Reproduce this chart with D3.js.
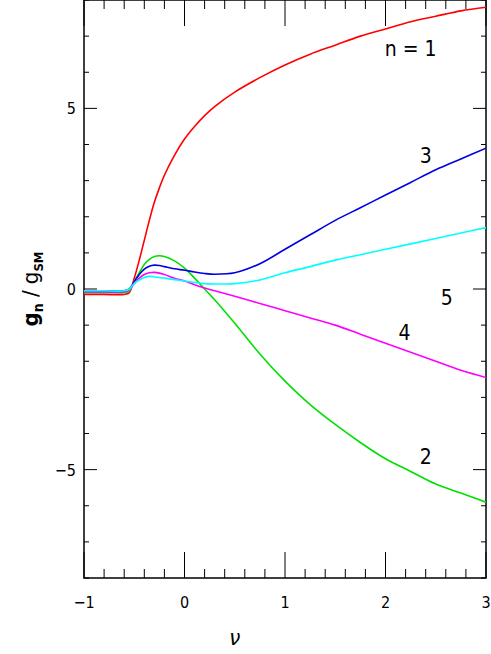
<!DOCTYPE html><html><head><meta charset="utf-8"><script src="https://cdn.jsdelivr.net/npm/d3@7"></script>
<style>body{margin:0;background:#fff}text{font-family:"DejaVu Sans Condensed","DejaVu Sans";}</style></head><body><svg width="491" height="654"></svg><script>
const nu=[-1,-0.8,-0.6,-0.55,-0.5,-0.45,-0.4,-0.35,-0.3,-0.25,-0.2,-0.1,0,0.1,0.2,0.3,0.5,0.75,1,1.25,1.5,1.75,2,2.25,2.5,2.75,3];
const n1=[-0.15,-0.15,-0.15,-0.1,0.3,0.8,1.35,1.9,2.4,2.8,3.15,3.7,4.15,4.5,4.8,5.05,5.45,5.85,6.2,6.5,6.75,7.0,7.2,7.4,7.55,7.7,7.8];
const n2=[-0.1,-0.1,-0.1,-0.05,0.2,0.45,0.68,0.82,0.9,0.92,0.9,0.78,0.58,0.3,0.0,-0.3,-0.95,-1.8,-2.55,-3.2,-3.75,-4.25,-4.7,-5.05,-5.4,-5.65,-5.9];
const n3=[-0.05,-0.05,-0.05,0,0.2,0.4,0.55,0.63,0.66,0.65,0.62,0.56,0.52,0.47,0.43,0.41,0.45,0.7,1.1,1.5,1.9,2.25,2.6,2.95,3.3,3.6,3.9];
const n4=[-0.08,-0.08,-0.08,-0.02,0.15,0.3,0.4,0.45,0.46,0.44,0.4,0.3,0.22,0.12,0.03,-0.05,-0.2,-0.4,-0.6,-0.8,-1.0,-1.25,-1.5,-1.75,-2.0,-2.25,-2.45];
const n5=[-0.05,-0.05,-0.05,0,0.15,0.25,0.32,0.35,0.34,0.32,0.3,0.26,0.22,0.18,0.15,0.14,0.15,0.25,0.45,0.62,0.8,0.95,1.1,1.25,1.4,1.55,1.7];
const series=[{v:n1,c:"#ff0000"},{v:n2,c:"#00e000"},{v:n3,c:"#0000e0"},{v:n4,c:"#ff00ff"},{v:n5,c:"#00ffff"}];
const labels=[{t:"n = 1",x:2.25,y:6.45},{t:"3",x:2.4,y:3.5},{t:"5",x:2.61,y:-0.45},{t:"4",x:2.19,y:-1.4},{t:"2",x:2.4,y:-4.85}];
const xTicks=[-1,0,1,2,3], yTicks=[-5,0,5];
const svg=d3.select("svg");
const L=84,R=486,T=0,B=578;
const x=d3.scaleLinear().domain([-1,3]).range([L,R]);
const y=d3.scaleLinear().domain([-8,8]).range([B,T]);
const g=svg.append("g");
g.append("rect").attr("x",L).attr("y",T).attr("width",R-L).attr("height",B-T).attr("fill","none").attr("stroke","#000").attr("stroke-width",1.5);
d3.range(-1,3.001,0.2).forEach(v=>{const maj=Math.abs(v-Math.round(v))<1e-6;const len=maj?26:9;
 g.append("line").attr("x1",x(v)).attr("x2",x(v)).attr("y1",B).attr("y2",B-len).attr("stroke","#000");
 g.append("line").attr("x1",x(v)).attr("x2",x(v)).attr("y1",T).attr("y2",T+len).attr("stroke","#000");});
d3.range(-8,8.001,1).forEach(v=>{const maj=v%5===0;const len=maj?13:5;
 g.append("line").attr("y1",y(v)).attr("y2",y(v)).attr("x1",L).attr("x2",L+len).attr("stroke","#000");
 g.append("line").attr("y1",y(v)).attr("y2",y(v)).attr("x1",R).attr("x2",R-len).attr("stroke","#000");});
xTicks.forEach(v=>g.append("text").attr("x",x(v)).attr("y",608).attr("text-anchor","middle").attr("font-size",16).text(v===-1?"−1":v));
yTicks.forEach(v=>g.append("text").attr("x",76).attr("y",y(v)+6).attr("text-anchor","end").attr("font-size",16).text(v<0?"−"+(-v):v));
g.append("text").attr("x",x(0.5)).attr("y",645).attr("text-anchor","middle").attr("font-size",22).attr("font-style","italic").attr("font-family","Liberation Serif").text("ν");
const yl=g.append("text").attr("transform",`translate(38,${y(0)}) rotate(-90)`).attr("text-anchor","middle").attr("font-family","Liberation Serif").attr("font-weight","bold").attr("font-size",22);
yl.append("tspan").text("g");yl.append("tspan").attr("dy",5).attr("font-size",14).text("n");
yl.append("tspan").attr("dy",-5).attr("font-weight","normal").text(" / g");yl.append("tspan").attr("dy",5).attr("font-size",13).text("SM");
const line=d3.line().x((d,i)=>x(nu[i])).y(d=>y(d)).curve(d3.curveCatmullRom);
const clip=svg.append("clipPath").attr("id","c").append("rect").attr("x",L).attr("y",T).attr("width",R-L).attr("height",B-T);
series.forEach(s=>svg.append("path").attr("d",line(s.v)).attr("fill","none").attr("stroke",s.c).attr("stroke-width",1.6).attr("clip-path","url(#c)"));
labels.forEach(l=>svg.append("text").attr("x",x(l.x)).attr("y",y(l.y)).attr("text-anchor","middle").attr("font-size",21).text(l.t));
</script></body></html>
